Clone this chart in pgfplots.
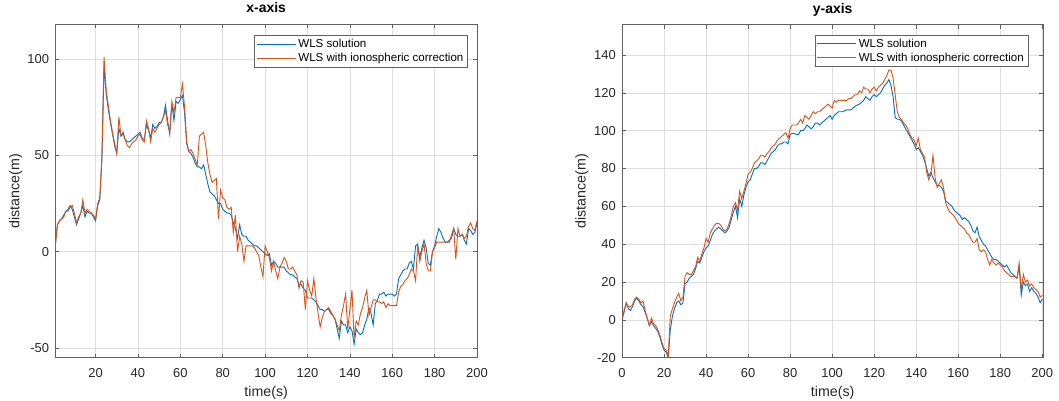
\documentclass[border=0pt]{standalone}
\usepackage{pgfplots}
\pgfplotsset{compat=1.18}
\usepackage{pgfplotstable}
\usepackage{fontspec}
\setmainfont{Liberation Sans}

\definecolor{mblue}{rgb}{0,0.447,0.741}
\definecolor{morange}{rgb}{0.85,0.325,0.098}
\definecolor{axgray}{gray}{0.15}

% x-axis position error: time, WLS, WLS + ionospheric correction
\pgfplotstableread{
t b o
1 3 3
2 14 14
3 16 16
4 17 17
5 19 18
6 21 21
7 22 21
8 24 23
9 22 24
10 18 20
11 14 15
12 17 18
13 20 20
14 24 27
15 18 20
16 21 22
17 20 21
18 20 20
19 18 19
20 16 17
21 24 25
22 27 28
23 48 50
24 96 101
25 82 84
26 74 76
27 67 68
28 61 62
29 55 56
30 51 51
31 64 70
32 60 60
33 62 61
34 58 58
35 57 55
36 57 54
37 58 56
38 59 57
39 60 58
40 61 60
41 62 61
42 59 58
43 58 57
44 66 68
45 63 64
46 59 57
47 66 64
48 64 62
49 65 64
50 67 66
51 67 67
52 70 70
53 76 73
54 68 66
55 61 62
56 77 78
57 68 72
58 78 80
59 77 80
60 79 80
61 81 87
62 72 75
63 56 57
64 52 52
65 51 53
66 49 51
67 46 48
68 44 45
69 44 60
70 43 61
71 45 62
72 40 55
73 35 46
74 31 40
75 30 36
76 29 37
77 27 38
78 25 17
79 25 32
80 22 28
81 21 27
82 20 23
83 20 22
84 19 23
85 15 10
86 12 19
87 7 0
88 14 8
89 9 4
90 8 -5
91 8 3
92 6 3
93 5 3
94 4 3
95 3 2
96 3 0
97 2 -2
98 1 -8
99 0 -13
100 -1 3
101 -2 0
102 -1 -3
103 -7 -10
104 -5 -5
105 -6 -10
106 -8 -14
107 -8 -8
108 -8 -6
109 -8 -3
110 -10 -5
111 -11 -9
112 -12 -9
113 -12 -8
114 -13 -10
115 -14 -12
116 -17 -19
117 -17 -15
118 -19 -16
119 -20 -30
120 -24 -15
121 -24 -20
122 -24 -23
123 -25 -14
124 -26 -24
125 -28 -32
126 -30 -39
127 -30 -34
128 -31 -31
129 -30 -30
130 -30 -29
131 -32 -31
132 -33 -33
133 -35 -35
134 -40 -38
135 -45 -41
136 -36 -33
137 -38 -28
138 -38 -22
139 -42 -40
140 -39 -30
141 -41 -20
142 -48 -45
143 -40 -36
144 -42 -38
145 -43 -32
146 -42 -29
147 -38 -24
148 -35 -20
149 -29 -33
150 -32 -29
151 -38 -25
152 -27 -25
153 -25 -26
154 -22 -26
155 -22 -27
156 -21 -26
157 -23 -29
158 -22 -27
159 -22 -28
160 -22 -28
161 -23 -28
162 -22 -28
163 -14 -21
164 -12 -18
165 -10 -17
166 -9 -15
167 -9 -14
168 -6 -12
169 -5 -9
170 -9 -10
171 3 -15
172 4 3
173 -3 -5
174 2 0
175 6 4
176 2 -6
177 -6 -10
178 -7 -10
179 0 0
180 3 2
181 8 5
182 12 5
183 10 5
184 7 5
185 5 5
186 5 5
187 6 5
188 7 9
189 12 12
190 9 -4
191 8 12
192 8 8
193 9 9
194 6 7
195 4 8
196 12 13
197 11 15
198 9 12
199 10 11
200 15 16
}\xdata

% y-axis position error
\pgfplotstableread{
t b o
0 0 1
1 4 5
2 9 9
3 6 7
4 5 7
5 7 8
6 10 11
7 11.5 12
8 10 11
9 8 9
10 7 10
11 4 5
12 1 1
13 -3 -3
14 -1 1
15 -3 -2
16 -4.5 -3
17 -6 -5
18 -9 -8
19 -13 -12
20 -16 -15
21 -17 -16
22 -20 -19
23 -5 2
24 2 6
25 6 9
26 9 12
27 10 14
28 8 10
29 9 12
30 19 23
31 20 25
32 22 24
33 23 24
34 24 26
35 27 28
36 31 33
37 30 31
38 33 35
39 36 38
40 38 43
41 39 41
42 42 46
43 45 48
44 47 50
45 48 51
46 49 51
47 48 50
48 47 48
49 46 47
50 47 48
51 49 51
52 53 55
53 57 60
54 60 62
55 54 58
56 64 68
57 60 64
58 66 68
59 70 72
60 73 77
61 74 78
62 77 80
63 80 83
64 80 84
65 81 85
66 83 87
67 83 87
68 82 86
69 84 88
70 86 89
71 88 91
72 89 92
73 90 93
74 92 95
75 93 96
76 93 97
77 94 98
78 94 99
79 93 96
80 98 101
81 98.5 103
82 98.5 103
83 98 103
84 98 104
85 100 106
86 100 104
87 101 108
88 103 107
89 102 106
90 101 108
91 102 110
92 104 109
93 104 110
94 103 110
95 104 111
96 105 112
97 106 113
98 107 114
99 108 113
100 106 112
101 108 116
102 109 115
103 110 116
104 110 116
105 110 116
106 110.5 116
107 111 116
108 111 117
109 111 117
110 112 118
111 113 119
112 113.5 119
113 114 121
114 115 120
115 116 123
116 118 122
117 117 122
118 116 120
119 118 122
120 119 123
121 118 121
122 119 123
123 120 124
124 122 125
125 124 127
126 125 129
127 127 132
128 124 132
129 118 128
130 107 119
131 106 110
132 106 107
133 105 106
134 103 104
135 101 103
136 99 101
137 97 98
138 95 96
139 93 95
140 90 92
141 91 96
142 89 90
143 87 88
144 84 86
145 80 78
146 76 74
147 78 77
148 75 87
149 73 75
150 71 70
151 71 72
152 70 74
153 68 70
154 63 62
155 62 59
156 61 57
157 60 56
158 58 55
159 57 53
160 56 51
161 55 50
162 53 49
163 54 48
164 53 46
165 52 45
166 50 43
167 47 41
168 46 41
169 49 43
170 44 37
171 42 36
172 40 37
173 39 36
174 37 32
175 35 29
176 33 32
177 32 30
178 32 29
179 31 30
180 30 29
181 29 28
182 28 26
183 29 25
184 27 24
185 25 23
186 24 23
187 23 23
188 22 22
189 28 30
190 13 16
191 20 24
192 18 20
193 19 21
194 15 18
195 17 19
196 15 17
197 14 16
198 12 15
199 9 12
200 11 13
}\ydata

\pgfplotsset{
  mstyle/.style={
    scale only axis,
    anchor=south west,
    axis line style={draw=black!62, line width=0.6bp},
    every tick/.style={draw=black!62, line width=0.6bp},
    major tick length=4bp,
    tick align=inside,
    grid=major,
    major grid style={draw=black!13, line width=0.6bp},
    ticklabel style={font=\fontsize{13}{15}\selectfont, text=axgray},
    xticklabel style={anchor=base, inner sep=0pt, yshift=-19.7bp},
    yticklabel style={anchor=east, inner sep=0pt, xshift=-6bp},
    title style={at={(axis description cs:0.5,1.016)}, anchor=base,
      font=\bfseries\fontsize{14}{16}\selectfont},
    xlabel style={at={(axis description cs:0.5,-0.117)}, anchor=base,
      font=\fontsize{14.3}{16}\selectfont, text=axgray},
    ylabel style={anchor=center,
      font=\fontsize{14.3}{16}\selectfont, text=axgray},
    xlabel={time(s)},
    ylabel={distance(m)},
    legend image code/.code={\draw[#1] (0bp,0bp) -- (39bp,0bp);},
    legend style={anchor=north east, draw=black!62, line width=0.6bp,
      fill=white, font=\fontsize{11.6}{14}\selectfont,
      inner xsep=2bp, inner ysep=2bp, nodes={inner sep=2bp},
      cells={anchor=west}},
    legend cell align=left,
  },
  sline/.style={line width=0.9bp},
}

\begin{document}
\begin{tikzpicture}
\path[use as bounding box] (0,0) rectangle (1059bp,401bp);

\begin{axis}[mstyle,
  at={(55.3bp,43.3bp)}, width=421.7bp, height=333.4bp,
  xmin=1, xmax=200, ymin=-55, ymax=118,
  xtick={20,40,...,200},
  ytick={-50,0,50,100}, yticklabels={-50,0,50,100},
  xticklabels={20,40,60,80,100,120,140,160,180,200},
  title={x-axis},
  ylabel style={at={(axis description cs:-0.094,0.5)}},
  legend style={at={(0.978,0.968)}},
]
\addplot[mblue, sline] table[x=t, y=b] {\xdata};
\addplot[morange, sline] table[x=t, y=o] {\xdata};
\legend{WLS solution, WLS with ionospheric correction}
\end{axis}

\begin{axis}[mstyle,
  at={(622bp,43.3bp)}, width=421.3bp, height=333bp,
  xmin=0, xmax=200.5, ymin=-20, ymax=156,
  xtick={0,20,...,200},
  xticklabels={0,20,40,60,80,100,120,140,160,180,200},
  ytick={-20,0,...,140},
  yticklabels={-20,0,20,40,60,80,100,120,140},
  title={y-axis},
  ylabel style={at={(axis description cs:-0.095,0.5)}},
  legend style={at={(0.964,0.970)}},
]
\addplot[mblue, sline] table[x=t, y=b] {\ydata};
\addplot[morange, sline] table[x=t, y=o] {\ydata};
\legend{WLS solution, WLS with ionospheric correction}
\end{axis}
\end{tikzpicture}
\end{document}
